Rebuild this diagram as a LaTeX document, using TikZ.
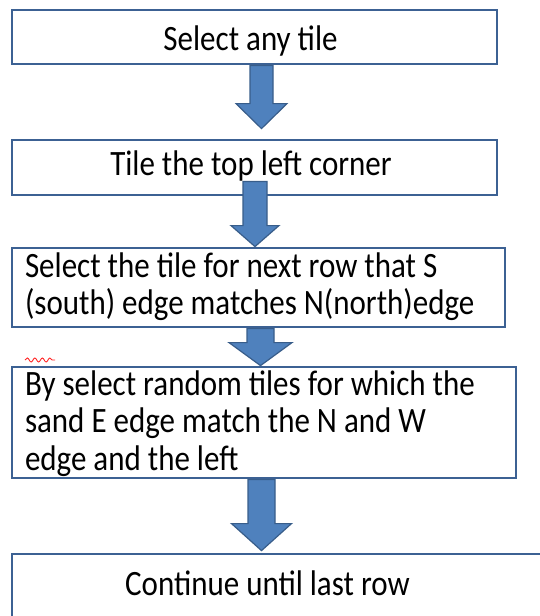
\documentclass[tikz,border=0pt]{standalone}
\usepackage{fontspec}
\setmainfont{Carlito}
\usetikzlibrary{calc,decorations.pathmorphing}
\pgfdeclarelayer{background}
\pgfsetlayers{background,main}
\definecolor{boxline}{HTML}{3C6193}
\definecolor{arrfill}{HTML}{4F81BD}
\definecolor{arrline}{HTML}{385D8A}
\newcommand\vst[1]{\scalebox{1}[1.15]{#1}}
% from, to, cx, dtop, dtip, headlen, shafthalf, headhalf
\newcommand\blockarr[8]{%
  \draw[blockarrow] let \p1=(#1.south), \p2=(#2.north) in
   ({#3pt-#7pt},{\y1+#4pt}) -- ({#3pt+#7pt},{\y1+#4pt}) --
   ({#3pt+#7pt},{\y2+#5pt+#6pt}) -- ({#3pt+#8pt},{\y2+#5pt+#6pt}) --
   ({#3pt},{\y2+#5pt}) --
   ({#3pt-#8pt},{\y2+#5pt+#6pt}) -- ({#3pt-#7pt},{\y2+#5pt+#6pt}) -- cycle;}
\begin{document}
\begin{tikzpicture}[x=1pt,y=1pt,
  flowbox/.style={draw=boxline, line width=2.8pt, fill=white, rectangle,
    inner sep=0pt, font=\fontsize{31}{33}\selectfont},
  blockarrow/.style={fill=arrfill, draw=arrline, line width=1.2pt, line join=miter}]
\useasboundingbox (0,0) rectangle (540,-616);
\clip (0,0) rectangle (540,-616);

\node[flowbox, minimum width=485pt, minimum height=54pt, text height=30pt, text depth=4pt]
  (b1) at (254.5,-37) {\vst{Select any tile}\rule{8pt}{0pt}};
\node[flowbox, minimum width=485pt, minimum height=55pt, text height=25pt, text depth=10pt]
  (b2) at (254.5,-167.5) {\vst{Tile the top left corner}\rule{7pt}{0pt}};
\node[flowbox, minimum width=493pt, minimum height=79pt, text height=20pt, text depth=41pt]
  (b3) at (258.5,-287.5) {\makebox[467pt][l]{\vst{\begin{tabular}[t]{@{}l@{}}Select the tile for next row that S\\(south) edge matches N(north)edge\end{tabular}}}};
\node[flowbox, minimum width=504pt, minimum height=111pt, text height=20pt, text depth=75pt]
  (b4) at (264,-422.5) {\makebox[478pt][l]{\vst{\begin{tabular}[t]{@{}l@{}}By select random tiles for which the\\sand E edge match the N and W\\edge and the left\end{tabular}}}};
\node[flowbox, minimum width=536pt, minimum height=64pt, text height=26pt, text depth=8pt]
  (b5) at (280,-586) {\vst{Continue until last row}\rule{25pt}{0pt}};

\begin{pgfonlayer}{background}
\blockarr{b1}{b2}{261.5}{0}{10}{25}{11.5}{25.5}
\blockarr{b3}{b4}{260.5}{0}{0}{23}{13.5}{31.5}
\blockarr{b4}{b5}{261.5}{0}{2}{27}{13.5}{30}
\end{pgfonlayer}
\blockarr{b2}{b3}{255}{15}{0}{21}{12}{24}

\coordinate (sq1) at (25,-360);
\coordinate (sq2) at (55,-360);
\draw[red!85!white, line width=0.9pt, decorate, decoration={snake, amplitude=2pt, segment length=7.5pt}] (sq1) -- (sq2);
\end{tikzpicture}
\end{document}
